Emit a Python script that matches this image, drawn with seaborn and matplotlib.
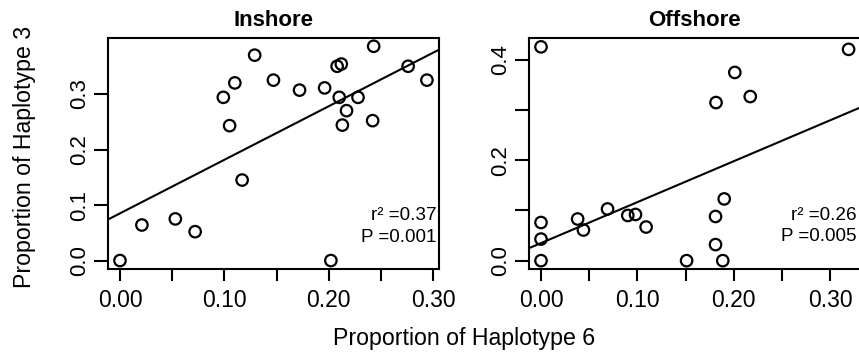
import matplotlib
matplotlib.use("Agg")
import matplotlib.pyplot as plt
import seaborn as sns
import numpy as np
import pandas as pd
from matplotlib.ticker import FixedLocator, FixedFormatter

# ---- data ----
inshore_x = [0.000, 0.021, 0.053, 0.072, 0.117, 0.099, 0.105, 0.110, 0.129, 0.147,
             0.172, 0.196, 0.202, 0.208, 0.212, 0.210, 0.213, 0.217, 0.228, 0.242,
             0.243, 0.276, 0.294]
inshore_y = [0.000, 0.064, 0.075, 0.052, 0.145, 0.294, 0.243, 0.320, 0.370, 0.325,
             0.307, 0.311, 0.000, 0.350, 0.354, 0.294, 0.244, 0.270, 0.294, 0.252,
             0.386, 0.350, 0.325]
offshore_x = [0.000, 0.000, 0.000, 0.000, 0.038, 0.044, 0.069, 0.090, 0.098, 0.109,
              0.151, 0.181, 0.181, 0.1815, 0.1885, 0.190, 0.201, 0.217, 0.319]
offshore_y = [0.426, 0.076, 0.043, 0.000, 0.083, 0.061, 0.103, 0.090, 0.092, 0.067,
              0.000, 0.088, 0.032, 0.315, 0.000, 0.123, 0.375, 0.327, 0.421]

# fitted regression lines as drawn in the reference (intercept, slope)
fit_intercepts = [0.085, 0.035]
fit_slopes = [0.965, 0.816]

titles = ["Inshore", "Offshore"]
stats = [("r\u00b2 =0.37", "P =0.001"), ("r\u00b2 =0.26", "P =0.005")]
x_label = "Proportion of Haplotype 6"
y_label = "Proportion of Haplotype 3"
x_ticks = [0.00, 0.10, 0.20, 0.30]
x_tick_labels = ["0.00", "0.10", "0.20", "0.30"]
x_minor = [0.05, 0.15, 0.25]
y_ticks = [[0.0, 0.1, 0.2, 0.3], [0.0, 0.2, 0.4]]
y_tick_labels = [["0.0", "0.1", "0.2", "0.3"], ["0.0", "0.2", "0.4"]]
y_minor = [[], [0.1, 0.3]]

sns.set_theme(style="white")
plt.rcParams["font.family"] = ["Liberation Sans", "DejaVu Sans"]

W, H = 859, 358
fig = plt.figure(figsize=(W / 100, H / 100), dpi=100)

# axes boxes in pixels: (left, top, right, bottom)
boxes = [(107.7, 37.7, 439.2, 269.1), (528.7, 38.3, 860.9, 269.2)]
stat_pos = [(0.992, 0.212, 0.118), (0.987, 0.213, 0.123)]

data = [(inshore_x, inshore_y), (offshore_x, offshore_y)]

for i, ((xs, ys), (l, t, r, b)) in enumerate(zip(data, boxes)):
    ax = fig.add_axes([l / W, 1 - b / H, (r - l) / W, (b - t) / H])
    df = pd.DataFrame({"x": xs, "y": ys})
    xr = max(xs) - min(xs)
    yr = max(ys) - min(ys)
    ax.set_xlim(min(xs) - 0.04 * xr, max(xs) + 0.04 * xr)
    ax.set_ylim(min(ys) - 0.04 * yr, max(ys) + 0.04 * yr)
    sns.scatterplot(data=df, x="x", y="y", ax=ax, s=68, marker="o",
                    facecolor="none", edgecolor="black", linewidth=1.6,
                    zorder=3)
    ax.axline((0, fit_intercepts[i]), slope=fit_slopes[i], color="black",
              lw=1.5, zorder=2)
    ax.set_xlabel("")
    ax.set_ylabel("")
    for sp in ax.spines.values():
        sp.set_visible(True)
        sp.set_color("black")
        sp.set_linewidth(1.5)
    ax.xaxis.set_major_locator(FixedLocator(x_ticks))
    ax.xaxis.set_major_formatter(FixedFormatter(x_tick_labels))
    ax.xaxis.set_minor_locator(FixedLocator(x_minor))
    ax.yaxis.set_major_locator(FixedLocator(y_ticks[i]))
    ax.yaxis.set_major_formatter(FixedFormatter(y_tick_labels[i]))
    ax.yaxis.set_minor_locator(FixedLocator(y_minor[i]))
    ax.tick_params(axis="x", which="both", bottom=True, direction="out",
                   length=8.5, width=1.5, color="black", pad=5.5,
                   labelsize=16.5, labelcolor="black")
    ax.tick_params(axis="y", which="both", left=True, direction="out",
                   length=10, width=1.5, color="black", pad=2.5,
                   labelsize=16, labelcolor="black")
    for lab in ax.get_yticklabels():
        lab.set_rotation(90)
        lab.set_va("center")
    ax.set_title(titles[i], fontsize=16, fontweight="bold", pad=8.6, color="black")
    sx, sy1, sy2 = stat_pos[i]
    ax.text(sx, sy1, stats[i][0], transform=ax.transAxes, ha="right",
            va="baseline", fontsize=13.6, color="black")
    ax.text(sx, sy2, stats[i][1], transform=ax.transAxes, ha="right",
            va="baseline", fontsize=13.6, color="black")

fig.text(464 / W, 1 - 339 / H, x_label, ha="center", va="center",
         fontsize=16.7, color="black")
fig.text(25 / W, 1 - 156.5 / H, y_label, ha="center", va="center",
         rotation=90, fontsize=16.7, color="black")

fig.savefig("out.png", dpi=100)
